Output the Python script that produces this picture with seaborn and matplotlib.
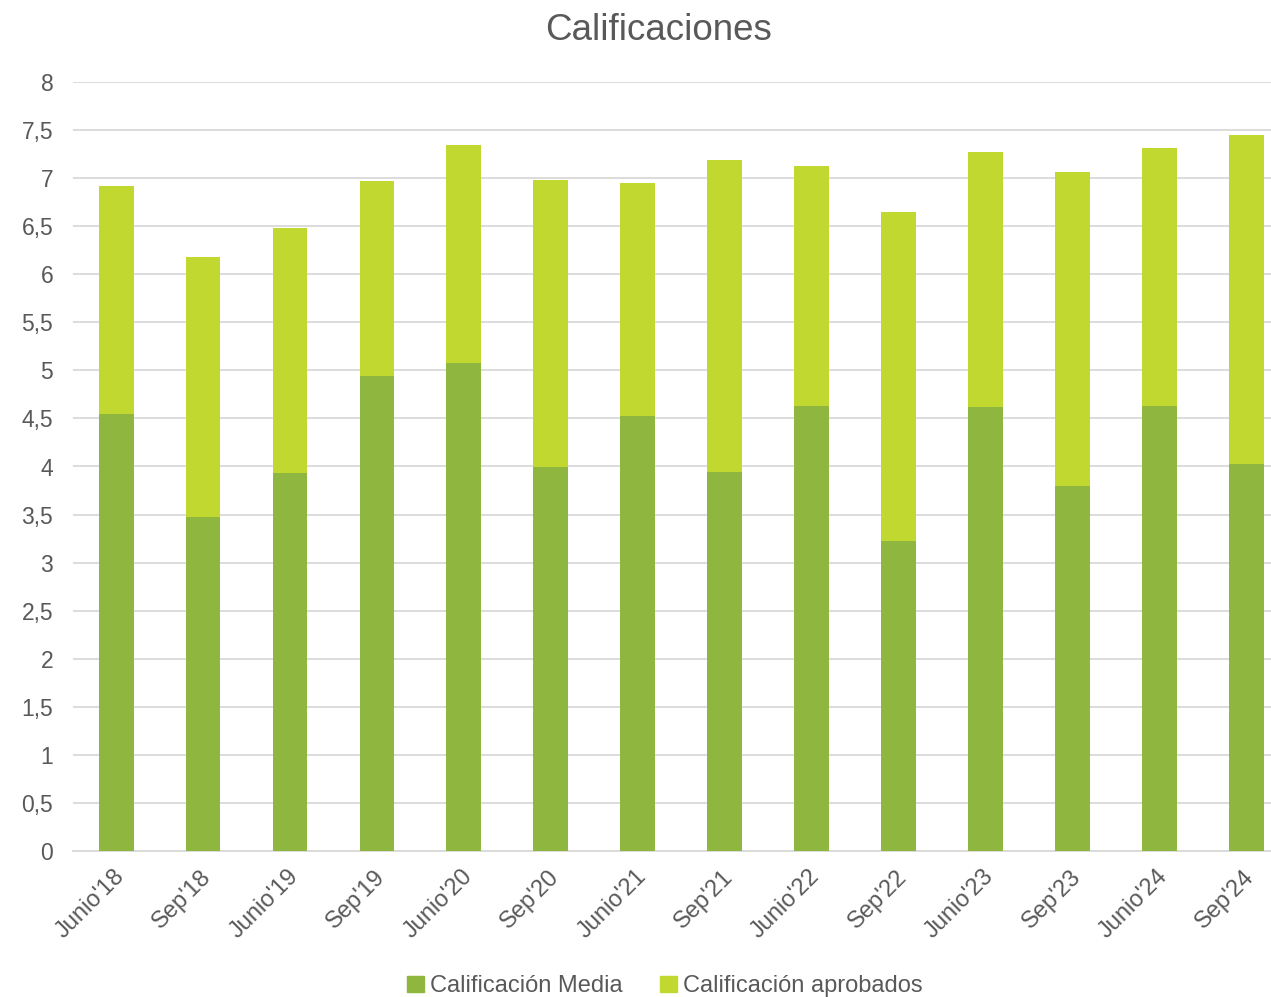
import matplotlib
matplotlib.use("Agg")
import matplotlib.pyplot as plt
from matplotlib.patches import Patch
import matplotlib.transforms as mtransforms
import pandas as pd
import seaborn as sns

# Datos
periodos = ["Junio'18", "Sep'18", "Junio'19", "Sep'19", "Junio'20", "Sep'20", "Junio'21",
            "Sep'21", "Junio'22", "Sep'22", "Junio'23", "Sep'23", "Junio'24", "Sep'24"]
media = [4.55, 3.47, 3.93, 4.94, 5.08, 3.99, 4.53, 3.94, 4.63, 3.23, 4.62, 3.80, 4.63, 4.03]
aprobados = [6.92, 6.18, 6.48, 6.97, 7.34, 6.98, 6.95, 7.19, 7.13, 6.65, 7.27, 7.06, 7.31, 7.45]
y_ticks = [0, 0.5, 1, 1.5, 2, 2.5, 3, 3.5, 4, 4.5, 5, 5.5, 6, 6.5, 7, 7.5, 8]

df = pd.DataFrame({"periodo": periodos, "media": media, "aprobados": aprobados})

C_MEDIA = "#8FB73F"
C_APROB = "#C1D831"
TXT = "#595959"
GRID = "#D9D9D9"

sns.set_style("white")
plt.rcParams["font.family"] = ["Liberation Sans", "DejaVu Sans"]

fig = plt.figure(figsize=(12.71, 9.97), dpi=100)
ax = fig.add_axes([72.7 / 1271, 1 - 851 / 997, 1216.9 / 1271, (851 - 82) / 997])

# barras superpuestas: aprobados detrás, media delante
sns.barplot(data=df, x="periodo", y="aprobados", color=C_APROB, saturation=1,
            width=0.4, ax=ax, linewidth=0, zorder=2)
sns.barplot(data=df, x="periodo", y="media", color=C_MEDIA, saturation=1,
            width=0.4, ax=ax, linewidth=0, zorder=3)

ax.set_xlim(-0.5, len(periodos) - 0.5)
ax.set_ylim(0, 8)
ax.set_yticks(y_ticks)
ax.set_yticklabels([f"{v:g}".replace(".", ",") for v in y_ticks])
ax.set_xlabel("")
ax.set_ylabel("")
ax.yaxis.grid(True, color=GRID, linewidth=1.3, zorder=0)
ax.set_axisbelow(True)
for s in ["top", "right", "left"]:
    ax.spines[s].set_visible(False)
ax.spines["bottom"].set_color(GRID)
ax.spines["bottom"].set_linewidth(1.3)

ax.tick_params(axis="y", length=0, pad=14, labelsize=16.5, labelcolor=TXT)
ax.tick_params(axis="x", length=0, pad=16, labelsize=17, labelcolor=TXT)
offset = mtransforms.ScaledTranslation(5 / 100, 0, fig.dpi_scale_trans)
for lab in ax.get_xticklabels():
    lab.set_rotation(45)
    lab.set_ha("right")
    lab.set_va("center")
    lab.set_rotation_mode("anchor")
    lab.set_transform(lab.get_transform() + offset)

fig.text(0.5185, 0.969, "Calificaciones", ha="center", va="center",
         fontsize=26.5, color=TXT)

handles = [Patch(color=C_MEDIA, label="Calificación Media"),
           Patch(color=C_APROB, label="Calificación aprobados")]
fig.legend(handles=handles, loc="center", bbox_to_anchor=(0.523, 0.011), ncol=2,
           frameon=False, fontsize=17, labelcolor=TXT, handlelength=0.7,
           handleheight=0.7, handletextpad=0.25, columnspacing=1.6)

fig.savefig("out.png", dpi=100)
